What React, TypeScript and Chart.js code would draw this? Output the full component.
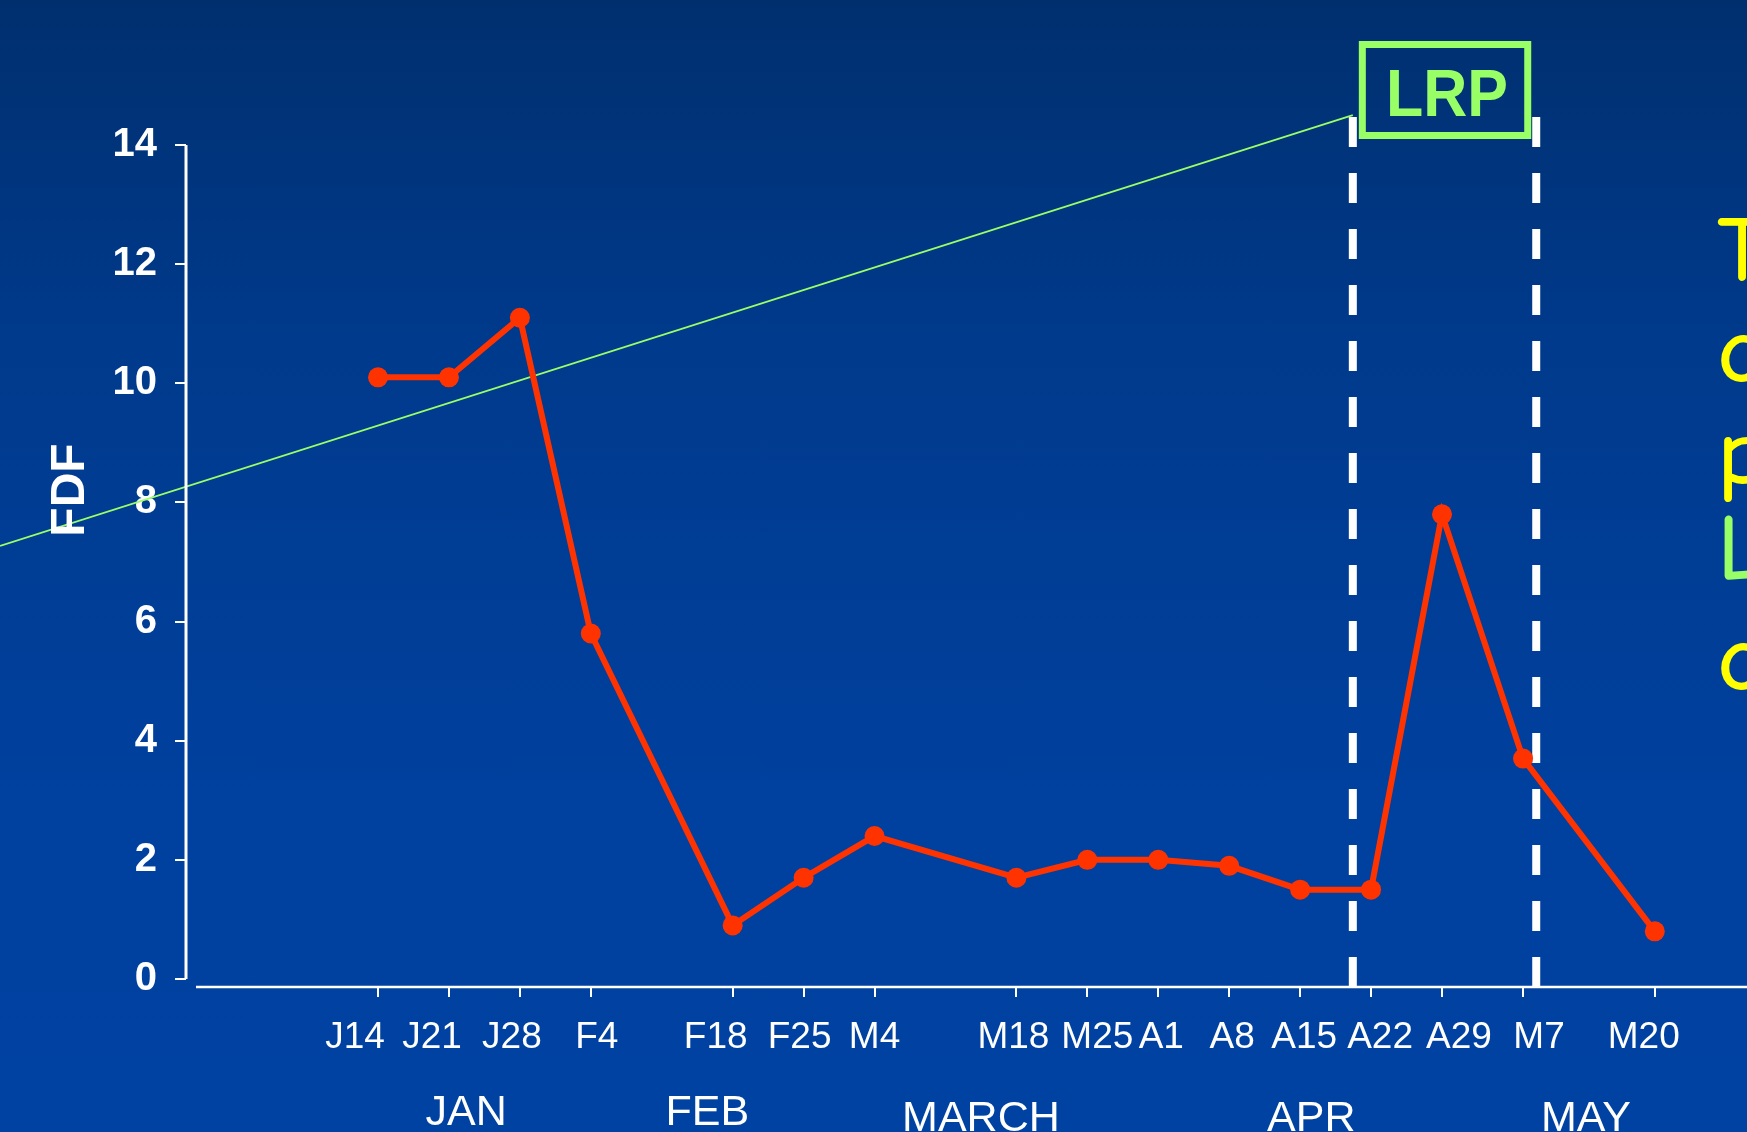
import React, { useEffect, useRef } from "react";
import { Chart, registerables } from "chart.js";

Chart.register(...registerables);

// ---- data (day of year; Jan 14 = 14) ----
const tickDays = [14, 21, 28, 35, 49, 56, 63, 77, 84, 91, 98, 105, 112, 119, 127, 140];
const tickLabels = ["J14", "J21", "J28", "F4", "F18", "F25", "M4", "M18", "M25", "A1", "A8", "A15", "A22", "A29", "M7", "M20"];
const fdfValues = [10.1, 10.1, 11.1, 5.8, 0.9, 1.7, 2.4, 1.7, 2.0, 2.0, 1.9, 1.5, 1.5, 7.8, 3.7, 0.8];
const yTicks = [0, 2, 4, 6, 8, 10, 12, 14];
const lrpLineDays = [-23.3, 110.2];
const lrpLineValues = [7.27, 14.5];
const lrpWindowDays = [110.2, 128.3];
const monthNames = ["JAN", "FEB", "MARCH", "APR", "MAY"];
const monthCenterDays = [22.7, 46.5, 73.5, 106.1, 133.2];
const sideLetters = ["T", "o", "p", "L", "o"];

const X_MIN = -4.95;
const X_MAX = 149.1;
const Y_MIN = -0.134;
const Y_MAX = 14;
const FONT = "'Liberation Sans', Arial, Helvetica, sans-serif";
const GREEN = "#99ff66";
const YELLOW = "#ffff00";
const RED = "#ff3300";

// hand-placed label nudges of the original slide (px), layout only
const TICK_LABEL_NUDGE = [-23, -17, -8, 6, -17, -4, 0, -3, 10, 3, 3, 4, 9, 17, 16, -11];

const decorPlugin = {
  id: "decor",
  afterDraw(chart: any) {
    const ctx = chart.ctx as CanvasRenderingContext2D;
    const xs = chart.scales.x;
    const ys = chart.scales.y;
    const area = chart.chartArea;
    ctx.save();

    // y axis line (from 14 down to 0)
    ctx.strokeStyle = "#ffffff";
    ctx.lineWidth = 3;
    ctx.beginPath();
    ctx.moveTo(area.left, ys.getPixelForValue(Y_MAX));
    ctx.lineTo(area.left, ys.getPixelForValue(0));
    ctx.stroke();

    // x axis line
    ctx.lineWidth = 2.5;
    ctx.beginPath();
    ctx.moveTo(area.left + 10, area.bottom);
    ctx.lineTo(chart.width, area.bottom);
    ctx.stroke();

    // x tick labels (week dates)
    ctx.fillStyle = "#ffffff";
    ctx.font = `37px ${FONT}`;
    ctx.textAlign = "center";
    ctx.textBaseline = "alphabetic";
    tickLabels.forEach((t, i) => {
      ctx.fillText(t, xs.getPixelForValue(tickDays[i]) + TICK_LABEL_NUDGE[i], area.bottom + 61);
    });

    // FDF axis title
    ctx.save();
    ctx.translate(71, 490);
    ctx.rotate(-Math.PI / 2);
    ctx.fillStyle = "#ffffff";
    ctx.font = `bold 48px ${FONT}`;
    ctx.textAlign = "center";
    ctx.textBaseline = "middle";
    ctx.fillText("FDF", 0, 0);
    ctx.restore();

    // month labels
    const monthBaselines = [1125, 1125, 1131, 1131, 1131];
    ctx.fillStyle = "#ffffff";
    ctx.font = `43px ${FONT}`;
    ctx.textAlign = "center";
    ctx.textBaseline = "alphabetic";
    monthNames.forEach((m, i) => {
      ctx.fillText(m, xs.getPixelForValue(monthCenterDays[i]), monthBaselines[i]);
    });

    // LRP box
    const bl = xs.getPixelForValue(lrpWindowDays[0]) + 6;
    const br = xs.getPixelForValue(lrpWindowDays[1]) - 5;
    const bt = 41;
    const bb = 139;
    ctx.strokeStyle = GREEN;
    ctx.lineWidth = 7;
    ctx.strokeRect(bl + 3.5, bt + 3.5, br - bl - 7, bb - bt - 7);
    ctx.fillStyle = GREEN;
    ctx.font = `bold 66px ${FONT}`;
    ctx.textAlign = "center";
    ctx.textBaseline = "alphabetic";
    const w = ctx.measureText("LRP").width;
    ctx.save();
    ctx.translate((bl + br) / 2 + 2, 116);
    ctx.scale(122 / w, 1);
    ctx.fillText("LRP", 0, 0);
    ctx.restore();

    // cut-off handwritten notes on the right edge
    const letterBaselines = [280, 381, 483, 578, 689];
    ctx.font = `92px 'Comic Neue', 'Comic Sans MS', 'DejaVu Sans', sans-serif`;
    ctx.textAlign = "left";
    ctx.lineWidth = 2;
    ctx.lineJoin = "round";
    sideLetters.forEach((c, i) => {
      const col = c === "L" ? GREEN : YELLOW;
      ctx.fillStyle = col;
      ctx.strokeStyle = col;
      ctx.fillText(c, 1718, letterBaselines[i]);
      ctx.strokeText(c, 1718, letterBaselines[i]);
    });

    ctx.restore();
  },
};

export default function App() {
  const canvasRef = useRef<HTMLCanvasElement | null>(null);

  useEffect(() => {
    const canvas = canvasRef.current;
    if (!canvas) return;
    const chart = new Chart(canvas, {
      type: "line",
      data: {
        datasets: [
          {
            label: "FDF",
            data: tickDays.map((d, i) => ({ x: d, y: fdfValues[i] })),
            borderColor: RED,
            backgroundColor: RED,
            borderWidth: 6,
            pointRadius: 10,
            pointBackgroundColor: RED,
            pointBorderWidth: 0,
            tension: 0,
            clip: false as any,
          },
          {
            label: "LRP trend",
            data: lrpLineDays.map((d, i) => ({ x: d, y: lrpLineValues[i] })),
            borderColor: GREEN,
            borderWidth: 1.8,
            pointRadius: 0,
            tension: 0,
            clip: false as any,
          },
          {
            label: "LRP start",
            data: [
              { x: lrpWindowDays[0], y: 14.47 },
              { x: lrpWindowDays[0], y: Y_MIN },
            ],
            borderColor: "#ffffff",
            borderWidth: 8,
            borderDash: [30, 26],
            borderCapStyle: "butt",
            pointRadius: 0,
            clip: false as any,
          },
          {
            label: "LRP end",
            data: [
              { x: lrpWindowDays[1], y: 14.47 },
              { x: lrpWindowDays[1], y: Y_MIN },
            ],
            borderColor: "#ffffff",
            borderWidth: 8,
            borderDash: [30, 26],
            borderCapStyle: "butt",
            pointRadius: 0,
            clip: false as any,
          },
        ],
      },
      options: {
        responsive: false,
        animation: false,
        devicePixelRatio: 1,
        events: [],
        layout: { autoPadding: false, padding: { top: 145, left: 0, right: 0, bottom: 0 } },
        plugins: {
          legend: { display: false },
          tooltip: { enabled: false },
        },
        scales: {
          x: {
            type: "linear",
            min: X_MIN,
            max: X_MAX,
            afterBuildTicks: (s: any) => {
              s.ticks = tickDays.map((v) => ({ value: v }));
            },
            afterFit: (s: any) => {
              s.height = 145;
              s.paddingLeft = 0;
              s.paddingRight = 0;
            },
            grid: {
              drawOnChartArea: false,
              drawTicks: true,
              tickLength: 10,
              color: "#ffffff",
              lineWidth: 2,
            },
            border: { display: false },
            ticks: {
              display: false,
              autoSkip: false,
              maxRotation: 0,
              minRotation: 0,
            },
          },
          y: {
            type: "linear",
            min: Y_MIN,
            max: Y_MAX,
            afterBuildTicks: (s: any) => {
              s.ticks = yTicks.map((v) => ({ value: v }));
            },
            afterFit: (s: any) => {
              s.width = 186;
              s.paddingTop = 0;
              s.paddingBottom = 0;
            },
            grid: {
              drawOnChartArea: false,
              drawTicks: true,
              tickLength: 11,
              color: "#ffffff",
              lineWidth: 2,
            },
            border: { display: false },
            ticks: {
              color: "#ffffff",
              padding: 18,
              font: { family: FONT, size: 40, weight: "bold" },
              callback: (v: any) => String(v),
            },
          },
        },
      },
      plugins: [decorPlugin],
    } as any);
    return () => chart.destroy();
  }, []);

  return (
    <div
      style={{
        position: "fixed",
        left: 0,
        top: 0,
        width: 1747,
        height: 1132,
        background: "linear-gradient(to bottom, #002f6e 0%, #003a8c 30%, #00409e 70%, #0042a2 100%)",
        overflow: "hidden",
      }}
    >
      <canvas ref={canvasRef} width={1747} height={1132} style={{ display: "block" }} />
    </div>
  );
}
